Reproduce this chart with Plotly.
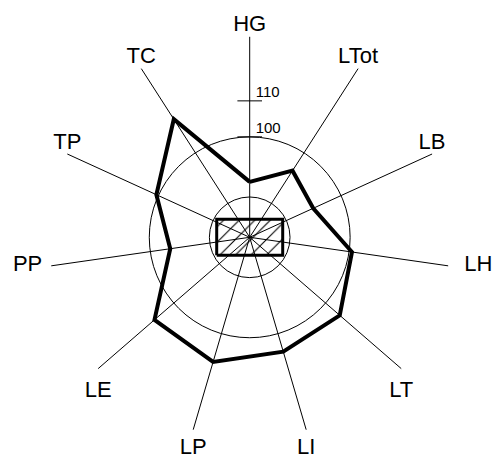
import math
import plotly.graph_objects as go

# Radar data: one profile over eleven measurements
categories = ["HG", "LTot", "LB", "LH", "LT", "LI", "LP", "LE", "PP", "TP", "TC"]
values = [87.5, 94.1, 91.5, 100.8, 105.2, 105.2, 108.2, 107.1, 94.4, 100.6, 111.1]

# Reference rings and labelled ticks on the vertical axis
ring_values = [83.3, 100]
tick_values = [100, 110]
tick_labels = ["100", "110"]

# Radial scale and geometry (pixels)
R_MIN, R_MAX = 72.1, 127.8
W, H = 493, 460
CX, CY, RAD = 249.7, 237.3, 200.5
TICK_HALF = 12.3
TICK_LABEL_PAD = 6
BOX_HALF_W, BOX_HALF_H = 33, 18

FONT = "Liberation Sans, Arial, sans-serif"

px_per_unit = RAD / (R_MAX - R_MIN)
step = 360 / len(categories)
theta = [i * step for i in range(len(categories))]

dom_x = [(CX - RAD) / W, (CX + RAD) / W]
dom_y = [(H - CY - RAD) / H, (H - CY + RAD) / H]


def label_position(t):
    """Place a spoke label above, below or beside the end of its spoke."""
    t = t % 360
    if t < 90 or t > 270:
        return "top center"
    if 90 <= t < 110:
        return "middle right"
    if 250 < t <= 270:
        return "middle left"
    return "bottom center"


def label_gap(t):
    """Gap in px between the spoke end and its label."""
    t = t % 360
    if t < 90 or t > 270:
        return 0
    if 90 <= t < 110:
        return 16
    if 250 < t <= 270:
        return 9
    if 150 <= t <= 210:
        return 8   # near the bottom edge
    return 12


def gap_to_marker_size(gap):
    # plotly offsets text by size / 1.6 + 1 px from an (invisible) marker
    return max(0.0, (gap - 1) * 1.6) if gap > 0 else 0


fig = go.Figure()

# Hatched box in the centre, on a hidden pixel-scaled cartesian overlay
bx = [-BOX_HALF_W, BOX_HALF_W, BOX_HALF_W, -BOX_HALF_W, -BOX_HALF_W]
by = [-BOX_HALF_H, -BOX_HALF_H, BOX_HALF_H, BOX_HALF_H, -BOX_HALF_H]
fig.add_trace(go.Scatter(
    x=bx, y=by, mode="lines", fill="toself",
    fillcolor="white",
    fillpattern=dict(shape="/", size=11, solidity=0.1,
                     fgcolor="black", bgcolor="white", fillmode="replace"),
    line=dict(color="black", width=3),
    hoverinfo="skip", xaxis="x", yaxis="y",
))

# Profile polygon
fig.add_trace(go.Scatterpolar(
    r=values + values[:1], theta=theta + theta[:1],
    mode="lines", line=dict(color="black", width=4),
    hoverinfo="skip",
))

# Cross ticks on the vertical axis
tr, tt, lt = [], [], []
for v in tick_values:
    rp = (v - R_MIN) * px_per_unit
    dth = math.degrees(math.atan(TICK_HALF / rp))
    rv = R_MIN + math.hypot(rp, TICK_HALF) / px_per_unit
    tr += [rv, rv, None]
    tt += [-dth, dth, None]
    lt.append(math.degrees(math.atan(TICK_LABEL_PAD / rp)))
fig.add_trace(go.Scatterpolar(
    r=tr, theta=tt, mode="lines", line=dict(color="black", width=1),
    hoverinfo="skip",
))

# Tick labels, just right of the axis
fig.add_trace(go.Scatterpolar(
    r=tick_values, theta=lt, mode="text",
    text=tick_labels, textposition="top right",
    textfont=dict(family=FONT, size=15, color="black"),
    hoverinfo="skip",
))

# Spoke labels at the outer ends
fig.add_trace(go.Scatterpolar(
    r=[R_MAX] * len(categories), theta=theta, mode="markers+text",
    marker=dict(size=[gap_to_marker_size(label_gap(t)) for t in theta],
                opacity=0, color="white"),
    text=categories, textposition=[label_position(t) for t in theta],
    textfont=dict(family=FONT, size=22, color="black"),
    cliponaxis=False, hoverinfo="skip",
))

fig.update_layout(
    width=W, height=H,
    margin=dict(l=0, r=0, t=0, b=0),
    paper_bgcolor="white", plot_bgcolor="white",
    showlegend=False,
    xaxis=dict(domain=dom_x, range=[-RAD, RAD], visible=False, fixedrange=True),
    yaxis=dict(domain=dom_y, range=[-RAD, RAD], visible=False, fixedrange=True),
    polar=dict(
        domain=dict(x=dom_x, y=dom_y),
        bgcolor="rgba(0,0,0,0)",
        angularaxis=dict(
            direction="clockwise", rotation=90,
            tickmode="array", tickvals=theta, ticktext=categories,
            showticklabels=False,
            ticks="", showline=False,
            showgrid=True, gridcolor="black", gridwidth=1,
        ),
        radialaxis=dict(
            range=[R_MIN, R_MAX],
            tickmode="array", tickvals=ring_values,
            showticklabels=False, ticks="", showline=False,
            showgrid=True, gridcolor="black", gridwidth=1,
        ),
    ),
)

fig.write_html("out.html")
